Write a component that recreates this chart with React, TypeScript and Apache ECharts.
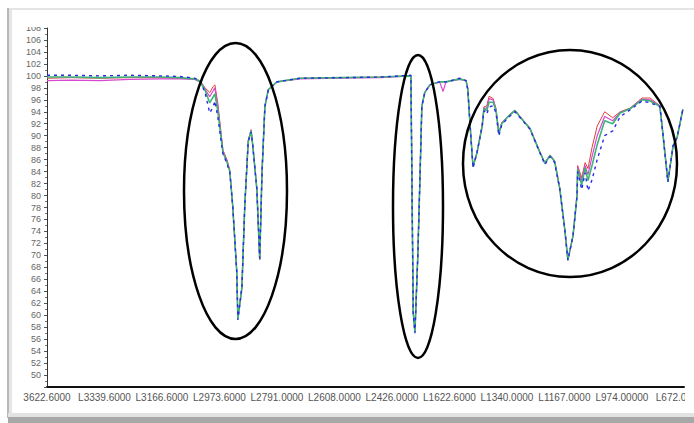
import React, { useEffect, useRef } from "react";
import * as echarts from "echarts";

const xTickLabels = [
  "3622.6000", "L3339.6000", "L3166.6000", "L2973.6000", "L2791.0000", "L2608.0000",
  "L2426.0000", "L1622.6000", "L1340.0000", "L1167.0000", "L974.00000", "L672.0000",
];

// positions along the category-like axis (1 unit = one labelled step)
const xs = [
  0, 0.4, 0.92, 1.44, 1.97, 2.31, 2.57, 2.66, 2.75, 2.83,
  2.89, 2.92, 2.97, 3.06, 3.13, 3.18, 3.23, 3.3, 3.32, 3.39,
  3.44, 3.5, 3.55, 3.58, 3.65, 3.7, 3.74, 3.79, 3.85, 4.0,
  4.4, 5.1, 5.79, 6.33, 6.37, 6.4, 6.45, 6.49, 6.52, 6.57,
  6.66, 6.83, 6.89, 6.94, 7.18, 7.29, 7.32, 7.36, 7.41, 7.48,
  7.57, 7.6, 7.65, 7.69, 7.76, 7.81, 7.86, 7.91, 8.02, 8.14,
  8.23, 8.4, 8.57, 8.66, 8.75, 8.83, 8.92, 9.01, 9.06, 9.15,
  9.22, 9.23, 9.3, 9.36, 9.41, 9.48, 9.57, 9.7, 9.84, 9.97,
  10.14, 10.35, 10.49, 10.66, 10.71, 10.8, 10.89, 10.96, 11.06,
];

const blueValues = [
  100.1, 100.1, 100.0, 100.1, 100.0, 99.9, 99.6, 99.2, 97.2, 93.8,
  94.8, 95.8, 93.2, 87.0, 85.4, 83.8, 78.3, 67.4, 59.2, 64.6,
  78.3, 89.0, 90.6, 88.2, 81.1, 69.5, 83.9, 94.9, 97.7, 99.0,
  99.6, 99.7, 99.8, 100.1, 60.1, 57.0, 70.0, 83.9, 94.9, 97.2,
  98.5, 99.0, 99.0, 99.0, 99.6, 99.2, 97.7, 91.6, 84.6, 87.2,
  91.6, 94.2, 93.6, 94.8, 95.0, 93.8, 90.0, 91.8, 93.0, 94.0,
  93.0, 91.1, 87.2, 85.2, 86.5, 85.5, 81.0, 74.0, 69.2, 73.3,
  80.0, 84.0, 81.0, 83.8, 80.8, 82.6, 86.0, 90.0, 90.8, 93.2,
  94.3, 95.8, 95.5, 94.9, 90.6, 82.3, 88.3, 89.7, 94.4,
];

const greenValues = [
  99.8, 99.8, 99.7, 99.8, 99.8, 99.7, 99.5, 99.1, 97.6, 95.5,
  96.5, 97.0, 94.2, 87.2, 85.6, 84.0, 78.3, 67.4, 59.4, 64.6,
  78.3, 89.0, 90.8, 88.3, 81.1, 69.3, 83.9, 94.9, 97.7, 99.0,
  99.6, 99.7, 99.8, 100.0, 60.5, 57.2, 70.0, 83.9, 94.9, 97.2,
  98.5, 99.0, 99.0, 99.0, 99.5, 99.2, 97.7, 91.6, 84.8, 87.2,
  91.6, 94.5, 94.2, 95.6, 95.6, 94.2, 90.3, 92.0, 93.2, 94.2,
  93.1, 91.2, 87.3, 85.4, 86.7, 85.7, 81.1, 74.0, 69.2, 73.3,
  80.0, 84.4, 81.8, 84.6, 82.5, 85.0, 88.5, 92.5, 92.0, 93.8,
  94.5, 96.0, 95.8, 94.9, 90.6, 82.3, 88.3, 89.7, 94.4,
];

const redValues = [
  99.6, 99.7, 99.6, 99.7, 99.7, 99.6, 99.5, 99.2, 98.0, 97.2,
  98.2, 98.5, 95.5, 87.6, 86.0, 84.2, 78.3, 67.4, 59.6, 64.6,
  78.3, 89.2, 91.0, 88.4, 81.1, 69.3, 83.9, 94.9, 97.7, 99.0,
  99.6, 99.7, 99.8, 100.0, 60.5, 57.2, 70.0, 83.9, 94.9, 97.2,
  98.5, 99.0, 99.0, 99.0, 99.5, 99.2, 97.7, 91.6, 84.8, 87.2,
  91.8, 94.8, 95.0, 96.6, 96.2, 94.5, 90.5, 92.2, 93.3, 94.3,
  93.2, 91.3, 87.4, 85.5, 86.8, 85.8, 81.2, 74.0, 69.2, 73.3,
  80.2, 85.0, 83.0, 85.5, 84.5, 88.0, 91.6, 94.0, 93.0, 94.0,
  94.6, 96.3, 96.3, 95.0, 90.6, 82.3, 88.3, 89.7, 94.4,
];

const magentaValues = [
  99.2, 99.3, 99.2, 99.4, 99.5, 99.5, 99.4, 99.0, 97.8, 96.5,
  97.5, 98.0, 95.0, 87.4, 85.8, 84.1, 78.3, 67.4, 59.5, 64.6,
  78.3, 89.1, 90.9, 88.3, 81.1, 69.3, 83.9, 94.9, 97.7, 99.0,
  99.5, 99.6, 99.7, 100.0, 60.5, 57.2, 70.0, 83.9, 94.9, 97.2,
  98.5, 99.0, 97.4, 99.0, 99.4, 99.2, 97.7, 91.6, 84.8, 87.2,
  91.7, 94.6, 94.6, 96.2, 96.0, 94.4, 90.4, 92.1, 93.2, 94.2,
  93.2, 91.2, 87.3, 85.4, 86.7, 85.7, 81.1, 74.0, 69.2, 73.3,
  80.1, 84.7, 82.5, 85.0, 83.5, 86.5, 90.0, 93.2, 92.5, 93.9,
  94.5, 96.1, 96.0, 95.0, 90.6, 82.3, 88.3, 89.7, 94.4,
];

const seriesDefs = [
  { name: "s1", values: redValues, color: "#e0403a", width: 1, dash: "solid" },
  { name: "s2", values: magentaValues, color: "#d848d0", width: 1.2, dash: "solid" },
  { name: "s3", values: greenValues, color: "#3cb37a", width: 1.6, dash: "solid" },
  { name: "s4", values: blueValues, color: "#2a2ae6", width: 1.4, dash: [3, 4] },
];

export default function App() {
  const ref = useRef<HTMLDivElement>(null);
  useEffect(() => {
    if (!ref.current) return;
    const chart = echarts.init(ref.current, null, { renderer: "svg" });
    const labelFont = "'Liberation Sans', Arial, sans-serif";
    chart.setOption({
      animation: false,
      backgroundColor: "#ffffff",
      grid: {
        left: 47, right: 10, top: 28, bottom: 36,
        containLabel: false, outerBoundsMode: "none",
      },
      xAxis: {
        type: "value",
        min: 0,
        max: 11.08,
        interval: 1,
        splitLine: { show: false },
        axisTick: { show: false },
        axisLine: { show: true, onZero: false, lineStyle: { color: "#111", width: 2 } },
        axisLabel: {
          color: "#555",
          fontSize: 10,
          fontFamily: labelFont,
          margin: 5,
          showMaxLabel: false,
          hideOverlap: false,
          formatter: (v: number) => {
            const r = Math.round(v);
            return Math.abs(v - r) < 1e-6 && xTickLabels[r] ? xTickLabels[r] : "";
          },
        },
      },
      yAxis: {
        type: "value",
        min: 48,
        max: 108,
        interval: 2,
        splitLine: { show: false },
        axisLine: { show: true, lineStyle: { color: "#333", width: 1 } },
        axisTick: { show: true, length: 3, lineStyle: { color: "#555" } },
        minorTick: { show: true, splitNumber: 2, length: 2, lineStyle: { color: "#777" } },
        axisLabel: {
          color: "#666",
          fontSize: 9,
          fontFamily: labelFont,
          margin: 6,
          formatter: (v: number) => (v === 48 ? "" : String(v)),
        },
      },
      series: seriesDefs.map((s) => ({
        name: s.name,
        type: "line",
        showSymbol: false,
        silent: true,
        data: xs.map((x, i) => [x, s.values[i]]),
        lineStyle: { color: s.color, width: s.width, type: s.dash },
      })),
      graphic: [
        { type: "rect", z: 100, shape: { x: 18, y: 10, width: 28, height: 17 }, style: { fill: "#fff" } },
        { type: "rect", z: 100, shape: { x: 685, y: 389, width: 9, height: 20 }, style: { fill: "#fff" } },
        { type: "rect", z: 100, shape: { x: 8, y: 8, width: 686, height: 2 }, style: { fill: "#e4e4e4" } },
        { type: "rect", z: 100, shape: { x: 7, y: 8, width: 2, height: 410 }, style: { fill: "#b8b8b8" } },
        { type: "rect", z: 100, shape: { x: 9, y: 10, width: 3, height: 406 }, style: { fill: "#e6e6e6" } },
        { type: "rect", z: 100, shape: { x: 8, y: 413, width: 686, height: 4 }, style: { fill: "#e2e2e2" } },
        { type: "rect", z: 100, shape: { x: 8, y: 417, width: 686, height: 6 }, style: { fill: "#a8a8a8" } },
        {
          type: "ellipse", z: 110,
          shape: { cx: 235.5, cy: 191, rx: 51.5, ry: 148 },
          style: { fill: "none", stroke: "#000", lineWidth: 2.5 },
        },
        {
          type: "ellipse", z: 110,
          shape: { cx: 418, cy: 206.5, rx: 25, ry: 151.5 },
          style: { fill: "none", stroke: "#000", lineWidth: 2.5 },
        },
        {
          type: "ellipse", z: 110,
          shape: { cx: 570, cy: 163.5, rx: 107, ry: 113.5 },
          style: { fill: "none", stroke: "#000", lineWidth: 2.5 },
        },
      ],
    });
    return () => chart.dispose();
  }, []);
  return (
    <div
      ref={ref}
      style={{ position: "absolute", left: 0, top: 0, width: 694, height: 423, background: "#fff" }}
    />
  );
}
